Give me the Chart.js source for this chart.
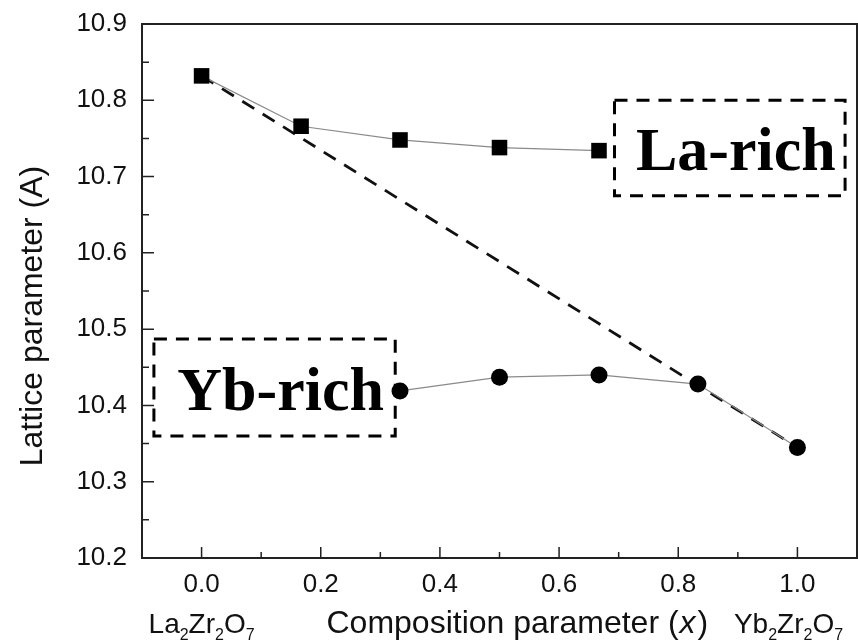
<!DOCTYPE html>
<html>
<head>
<meta charset="utf-8">
<script src="https://cdn.jsdelivr.net/npm/chart.js@4/dist/chart.umd.min.js"></script>
<style>
  body { margin: 0; background: #fff; }
  #wrap { width: 858px; height: 643px; }
</style>
</head>
<body>
<div id="wrap"><canvas id="latticeChart"></canvas></div>
<script>
// composition x and lattice parameter (A)
const laRichX = [0, 0.167, 0.333, 0.5, 0.667];
const laRichY = [10.832, 10.766, 10.748, 10.738, 10.734];
const ybRichX = [0.333, 0.5, 0.667, 0.833, 1.0];
const ybRichY = [10.419, 10.437, 10.440, 10.428, 10.345];
const vegardX = [0, 1.0];
const vegardY = [10.832, 10.345];

const xTicks = [0, 0.2, 0.4, 0.6, 0.8, 1.0];
const xMinor = [0.1, 0.3, 0.5, 0.7, 0.9];
const yTicks = [10.2, 10.3, 10.4, 10.5, 10.6, 10.7, 10.8, 10.9];
const yMinor = [10.25, 10.35, 10.45, 10.55, 10.65, 10.75, 10.85];

// dashed annotation boxes, in data units
const boxLabels = ['La-rich', 'Yb-rich'];
const boxXRange = [[0.693, 1.08], [-0.08, 0.325]];
const boxYRange = [[10.800, 10.675], [10.487, 10.360]];

const sans = '"Liberation Sans", Arial, sans-serif';
const serif = '"Liberation Serif", "Times New Roman", serif';

function toPoints(xs, ys) {
    return xs.map((x, i) => ({ x: x, y: ys[i] }));
}

function drawChem(ctx, parts, cx, baseline, bigSize, smallSize) {
    let total = 0;
    parts.forEach(p => {
        ctx.font = (p[1] ? smallSize : bigSize) + 'px ' + sans;
        total += ctx.measureText(p[0]).width;
    });
    let x = cx - total / 2;
    ctx.textAlign = 'left';
    ctx.textBaseline = 'alphabetic';
    parts.forEach(p => {
        ctx.font = (p[1] ? smallSize : bigSize) + 'px ' + sans;
        ctx.fillText(p[0], x, baseline + (p[1] ? 7 : 0));
        x += ctx.measureText(p[0]).width;
    });
}

const decorPlugin = {
    id: 'decor',
    afterDraw(chart) {
        const ctx = chart.ctx;
        const area = chart.chartArea;
        const xs = chart.scales.x;
        const ys = chart.scales.y;
        ctx.save();

        // frame
        ctx.strokeStyle = '#222';
        ctx.lineWidth = 2;
        ctx.strokeRect(area.left, area.top, area.right - area.left, area.bottom - area.top);

        // inward ticks
        ctx.lineWidth = 1.5;
        ctx.beginPath();
        xTicks.forEach(v => {
            const px = xs.getPixelForValue(v);
            ctx.moveTo(px, area.bottom); ctx.lineTo(px, area.bottom - 11);
        });
        xMinor.forEach(v => {
            const px = xs.getPixelForValue(v);
            ctx.moveTo(px, area.bottom); ctx.lineTo(px, area.bottom - 6);
        });
        yTicks.forEach(v => {
            const py = ys.getPixelForValue(v);
            ctx.moveTo(area.left, py); ctx.lineTo(area.left + 12, py);
        });
        yMinor.forEach(v => {
            const py = ys.getPixelForValue(v);
            ctx.moveTo(area.left, py); ctx.lineTo(area.left + 7, py);
        });
        ctx.stroke();

        // tick labels
        ctx.fillStyle = '#111';
        ctx.font = '26px ' + sans;
        ctx.textBaseline = 'middle';
        ctx.textAlign = 'center';
        xTicks.forEach(v => {
            ctx.fillText(v.toFixed(1), xs.getPixelForValue(v), area.bottom + 27);
        });
        ctx.textAlign = 'right';
        yTicks.forEach(v => {
            ctx.fillText(v.toFixed(1), area.left - 15, ys.getPixelForValue(v));
        });

        // dashed boxes with labels
        ctx.strokeStyle = '#000';
        ctx.fillStyle = '#000';
        ctx.lineWidth = 3;
        ctx.setLineDash([13, 9]);
        boxLabels.forEach((label, i) => {
            const x1 = xs.getPixelForValue(boxXRange[i][0]);
            const x2 = xs.getPixelForValue(boxXRange[i][1]);
            const y1 = ys.getPixelForValue(boxYRange[i][0]);
            const y2 = ys.getPixelForValue(boxYRange[i][1]);
            ctx.strokeRect(x1, y1, x2 - x1, y2 - y1);
            ctx.font = 'bold 62px ' + serif;
            ctx.textAlign = 'center';
            ctx.textBaseline = 'alphabetic';
            ctx.fillText(label, (x1 + x2) / 2 + 6, (y1 + y2) / 2 + 22);
        });
        ctx.setLineDash([]);

        // y axis title
        ctx.fillStyle = '#111';
        ctx.save();
        ctx.translate(42, 316);
        ctx.rotate(-Math.PI / 2);
        ctx.font = '32px ' + sans;
        ctx.textAlign = 'center';
        ctx.textBaseline = 'alphabetic';
        ctx.fillText('Lattice parameter (A)', 0, 0);
        ctx.restore();

        // x axis title with italic x
        const base = 633;
        const t1 = 'Composition parameter (';
        ctx.font = '32px ' + sans;
        const w1 = ctx.measureText(t1).width;
        const w3 = ctx.measureText(')').width;
        ctx.font = 'italic 32px ' + sans;
        const w2 = ctx.measureText('x').width + 3;
        let tx = xs.getPixelForValue(0.53) - (w1 + w2 + w3) / 2;
        ctx.textAlign = 'left';
        ctx.textBaseline = 'alphabetic';
        ctx.font = '32px ' + sans;
        ctx.fillText(t1, tx, base);
        ctx.font = 'italic 32px ' + sans;
        ctx.fillText('x', tx + w1 + 1, base);
        ctx.font = '32px ' + sans;
        ctx.fillText(')', tx + w1 + w2, base);

        drawChem(ctx, [['La', 0], ['2', 1], ['Zr', 0], ['2', 1], ['O', 0], ['7', 1]],
            xs.getPixelForValue(0), base, 28, 16);
        drawChem(ctx, [['Yb', 0], ['2', 1], ['Zr', 0], ['2', 1], ['O', 0], ['7', 1]],
            xs.getPixelForValue(0.985), base, 28, 16);

        ctx.restore();
    }
};

const ctx = document.getElementById('latticeChart').getContext('2d');
new Chart(ctx, {
    type: 'line',
    data: {
        datasets: [
            {
                label: 'La-rich',
                data: toPoints(laRichX, laRichY),
                borderColor: '#8a8a8a',
                borderWidth: 1.2,
                pointStyle: 'rect',
                pointRadius: 11,
                pointBackgroundColor: '#000',
                pointBorderColor: '#000',
                pointBorderWidth: 0
            },
            {
                label: 'Yb-rich',
                data: toPoints(ybRichX, ybRichY),
                borderColor: '#8a8a8a',
                borderWidth: 1.2,
                pointStyle: 'circle',
                pointRadius: 8.5,
                pointBackgroundColor: '#000',
                pointBorderColor: '#000',
                pointBorderWidth: 0
            },
            {
                label: 'Vegard',
                data: toPoints(vegardX, vegardY),
                borderColor: '#111',
                borderWidth: 2.8,
                borderDash: [14, 10],
                pointRadius: 0
            }
        ]
    },
    options: {
        responsive: true,
        maintainAspectRatio: false,
        animation: false,
        layout: { autoPadding: false, padding: { top: 24, right: 1, left: 0, bottom: 0 } },
        plugins: {
            legend: { display: false },
            tooltip: { enabled: false }
        },
        scales: {
            x: {
                type: 'linear',
                min: -0.1,
                max: 1.1,
                grid: { display: false, drawTicks: false },
                border: { display: false },
                ticks: { display: false },
                afterFit: scale => { scale.height = 85; }
            },
            y: {
                type: 'linear',
                min: 10.2,
                max: 10.9,
                grid: { display: false, drawTicks: false },
                border: { display: false },
                ticks: { display: false },
                afterFit: scale => { scale.width = 142; }
            }
        }
    },
    plugins: [decorPlugin]
});
</script>
</body>
</html>
